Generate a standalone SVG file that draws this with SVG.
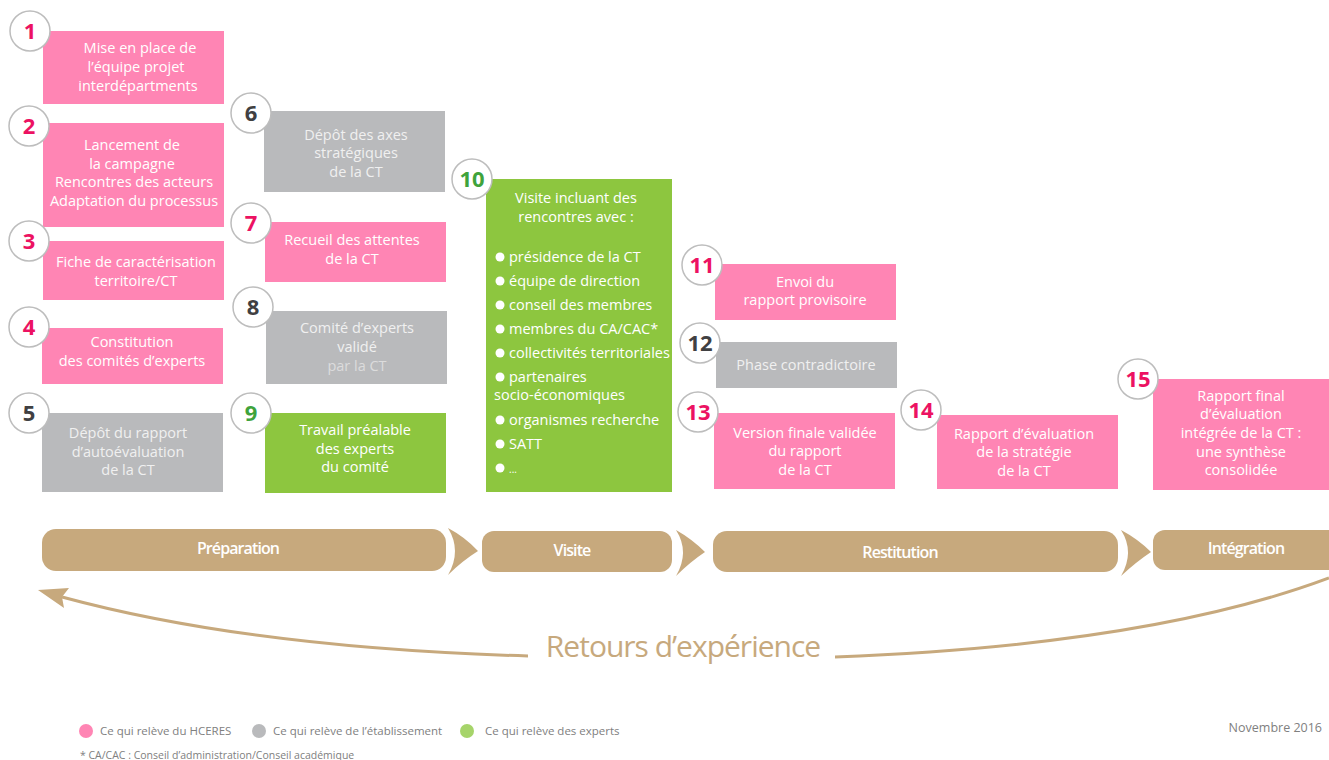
<svg xmlns="http://www.w3.org/2000/svg" width="1329" height="760" viewBox="0 0 1329 760">
<style>
.pink{fill:#FF85B4}
.gray{fill:#B9BABC}
.green{fill:#8DC63F}
.t{font-family:"Open Sans","Liberation Sans",sans-serif;font-size:14.5px;fill:#FFFFFF;text-anchor:middle}
.tg{fill:#F0F0F0}
.tl{text-anchor:start}
.c{fill:#FFFFFF;stroke:#BDBDBD;stroke-width:1.5}
.n{font-family:"Open Sans","Liberation Sans",sans-serif;font-size:22px;font-weight:700;text-anchor:middle}
.np{fill:#EC1262}
.ng{fill:#404042}
.nv{fill:#3FA33C}
.bar{fill:#C7A97D}
.ph{font-family:"Open Sans","Liberation Sans",sans-serif;font-size:16px;font-weight:600;fill:#FFFFFF;text-anchor:middle;letter-spacing:-0.9px}
.leg{font-family:"Open Sans","Liberation Sans",sans-serif;font-size:11.5px;fill:#808080}
.curve{fill:none;stroke:#C7A97D;stroke-width:3}
</style>
<rect width="1329" height="760" fill="#FFFFFF"/>

<g id="node1">
<rect class="pink" x="43" y="31" width="181" height="73"/>
<text class="t" x="140" y="53">Mise en place de</text>
<text class="t" x="136" y="72">l’équipe projet</text>
<text class="t" x="138" y="91">interdépartments</text>
<circle class="c" cx="30" cy="31" r="20"/><text class="n np" x="30" y="39">1</text>
</g>
<g id="node2">
<rect class="pink" x="43" y="123" width="181" height="104"/>
<text class="t" x="132" y="150">Lancement de</text>
<text class="t" x="132" y="169">la campagne</text>
<text class="t" x="134" y="187">Rencontres des acteurs</text>
<text class="t" x="134" y="206">Adaptation du processus</text>
<circle class="c" cx="29" cy="126" r="20"/><text class="n np" x="29" y="134">2</text>
</g>
<g id="node3">
<rect class="pink" x="43" y="241" width="181" height="59"/>
<text class="t" x="136" y="267">Fiche de caractérisation</text>
<text class="t" x="136" y="286">territoire/CT</text>
<circle class="c" cx="29" cy="241" r="20"/><text class="n np" x="29" y="249">3</text>
</g>
<g id="node4">
<rect class="pink" x="42" y="328" width="181" height="56"/>
<text class="t" x="132" y="347">Constitution</text>
<text class="t" x="132" y="366">des comités d’experts</text>
<circle class="c" cx="29" cy="327" r="20"/><text class="n np" x="29" y="335">4</text>
</g>
<g id="node5">
<rect class="gray" x="42" y="413" width="181" height="79"/>
<text class="t tg" x="128" y="438">Dépôt du rapport</text>
<text class="t tg" x="128" y="457">d’autoévaluation</text>
<text class="t tg" x="128" y="475">de la CT</text>
<circle class="c" cx="29" cy="413" r="20"/><text class="n ng" x="29" y="421">5</text>
</g>
<g id="node6">
<rect class="gray" x="264" y="111" width="181" height="81"/>
<text class="t tg" x="356" y="140">Dépôt des axes</text>
<text class="t tg" x="356" y="158">stratégiques</text>
<text class="t tg" x="356" y="177">de la CT</text>
<circle class="c" cx="251" cy="113" r="20"/><text class="n ng" x="251" y="121">6</text>
</g>
<g id="node7">
<rect class="pink" x="265" y="222" width="181" height="60"/>
<text class="t" x="352" y="245">Recueil des attentes</text>
<text class="t" x="352" y="264">de la CT</text>
<circle class="c" cx="251" cy="223" r="20"/><text class="n np" x="251" y="231">7</text>
</g>
<g id="node8">
<rect class="gray" x="266" y="311" width="181" height="73"/>
<text class="t tg" x="357" y="333">Comité d’experts</text>
<text class="t tg" x="357" y="352">validé</text>
<text class="t" x="357" y="371" style="fill:#DCDCDC">par la CT</text>
<circle class="c" cx="253" cy="307" r="20"/><text class="n ng" x="253" y="315">8</text>
</g>
<g id="node9">
<rect class="green" x="265" y="413" width="181" height="80"/>
<text class="t" x="355" y="435">Travail préalable</text>
<text class="t" x="355" y="454">des experts</text>
<text class="t" x="355" y="472">du comité</text>
<circle class="c" cx="251" cy="413" r="20"/><text class="n nv" x="251" y="421">9</text>
</g>
<g id="node10">
<rect class="green" x="486" y="179" width="186" height="313"/>
<text class="t" x="576" y="203">Visite incluant des</text>
<text class="t" x="576" y="222">rencontres avec :</text>
<g fill="#FFFFFF">
<circle cx="500" cy="257" r="4.5"/><circle cx="500" cy="281" r="4.5"/><circle cx="500" cy="305" r="4.5"/>
<circle cx="500" cy="329" r="4.5"/><circle cx="500" cy="353" r="4.5"/><circle cx="500" cy="377" r="4.5"/>
<circle cx="500" cy="420" r="4.5"/><circle cx="500" cy="444" r="4.5"/><circle cx="500" cy="468" r="4.5"/>
</g>
<text class="t tl" x="509" y="262">présidence de la CT</text>
<text class="t tl" x="509" y="286">équipe de direction</text>
<text class="t tl" x="509" y="310">conseil des membres</text>
<text class="t tl" x="509" y="334">membres du CA/CAC*</text>
<text class="t tl" x="509" y="358">collectivités territoriales</text>
<text class="t tl" x="509" y="382">partenaires</text>
<text class="t tl" x="494" y="400">socio-économiques</text>
<text class="t tl" x="509" y="425">organismes recherche</text>
<text class="t tl" x="509" y="449">SATT</text>
<text class="t tl" x="509" y="473" style="font-size:10px">...</text>
<circle class="c" cx="472" cy="179" r="20"/><text class="n nv" x="472" y="187">10</text>
</g>
<g id="node11">
<rect class="pink" x="715" y="264" width="181" height="56"/>
<text class="t" x="805" y="287">Envoi du</text>
<text class="t" x="805" y="305">rapport provisoire</text>
<circle class="c" cx="702" cy="265" r="20"/><text class="n np" x="702" y="273">11</text>
</g>
<g id="node12">
<rect class="gray" x="716" y="342" width="181" height="46"/>
<text class="t tg" x="806" y="370">Phase contradictoire</text>
<circle class="c" cx="700" cy="343" r="20"/><text class="n ng" x="700" y="351">12</text>
</g>
<g id="node13">
<rect class="pink" x="714" y="413" width="181" height="76"/>
<text class="t" x="805" y="438">Version finale validée</text>
<text class="t" x="805" y="456">du rapport</text>
<text class="t" x="805" y="475">de la CT</text>
<circle class="c" cx="698" cy="412" r="20"/><text class="n np" x="698" y="420">13</text>
</g>
<g id="node14">
<rect class="pink" x="937" y="415" width="181" height="74"/>
<text class="t" x="1024" y="439">Rapport d’évaluation</text>
<text class="t" x="1024" y="457">de la stratégie</text>
<text class="t" x="1024" y="476">de la CT</text>
<circle class="c" cx="921" cy="410" r="20"/><text class="n np" x="921" y="418">14</text>
</g>
<g id="node15">
<rect class="pink" x="1153" y="379" width="176" height="111"/>
<text class="t" x="1241" y="401">Rapport final</text>
<text class="t" x="1241" y="419">d’évaluation</text>
<text class="t" x="1241" y="438">intégrée de la CT :</text>
<text class="t" x="1241" y="457">une synthèse</text>
<text class="t" x="1241" y="475">consolidée</text>
<circle class="c" cx="1138" cy="379" r="20"/><text class="n np" x="1138" y="387">15</text>
</g>

<g id="phases">
<rect class="bar" x="42" y="529" width="404" height="42" rx="14"/>
<text class="ph" x="238" y="554">Préparation</text>
<rect class="bar" x="482" y="531" width="190" height="41" rx="12"/>
<text class="ph" x="572" y="556">Visite</text>
<rect class="bar" x="713" y="531" width="405" height="41" rx="14"/>
<text class="ph" x="900" y="558">Restitution</text>
<rect class="bar" x="1153" y="530" width="190" height="40" rx="12"/>
<text class="ph" x="1246" y="554">Intégration</text>
</g>

<g id="connectors">
<path class="bar" d="M448,528 Q465,537 478,551 Q462,561 448,575 Q462,551 448,528 Z"/>
<path class="bar" d="M676,530 Q692,539 705,552 Q690,562 676,576 Q690,552 676,530 Z"/>
<path class="bar" d="M1121,530 Q1138,539 1151,552 Q1136,562 1121,576 Q1135,552 1121,530 Z"/>
<path class="curve" d="M528,656 Q250,648 62,597"/>
<path class="bar" d="M38,590 L69,588 L62,597 L64,608 Z"/>
<path class="curve" d="M835,657 Q1150,645 1329,578"/>
</g>

<text x="683" y="657" text-anchor="middle" style="font-family:'Open Sans','Liberation Sans',sans-serif;font-size:30px;fill:#C7A97D;letter-spacing:-1px">Retours d’expérience</text>

<g id="legend">
<circle cx="86" cy="731" r="7" fill="#FF85B4"/>
<text class="leg" x="100" y="735">Ce qui relève du HCERES</text>
<circle cx="259" cy="731" r="7" fill="#B9BABC"/>
<text class="leg" x="273" y="735">Ce qui relève de l’établissement</text>
<circle cx="467" cy="731" r="7" fill="#A6D46A"/>
<text class="leg" x="485" y="735">Ce qui relève des experts</text>
<text class="leg" x="80" y="759" style="font-size:10.5px">* CA/CAC : Conseil d’administration/Conseil académique</text>
<text class="leg" x="1322" y="732" text-anchor="end" style="font-size:12.5px">Novembre 2016</text>
</g>
</svg>
